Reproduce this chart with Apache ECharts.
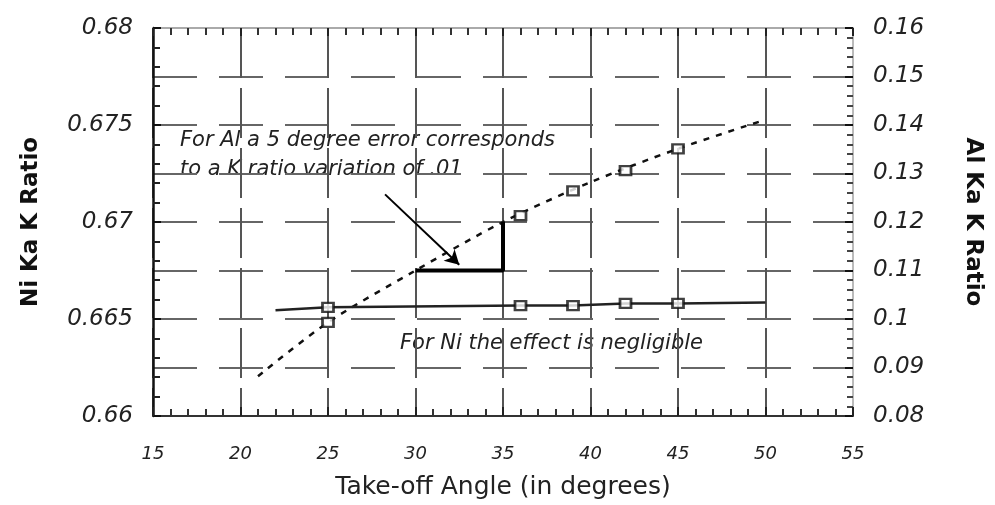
<!DOCTYPE html>
<html>
<head>
<meta charset="utf-8">
<script src="https://cdn.jsdelivr.net/npm/echarts@6/dist/echarts.min.js"></script>
<style>
  html, body { margin: 0; padding: 0; background: #fff; }
  #chart { width: 995px; height: 505px; }
</style>
</head>
<body>
<div id="chart"></div>
<script>
// ---- data ----
const measuredAngles = [25, 36, 39, 42, 45];
const alKRatio = [0.0993, 0.1213, 0.1264, 0.1306, 0.1351];
const niKRatio = [0.6656, 0.66569, 0.66569, 0.6658, 0.6658];

const alCurveAngles = [21, 25, 30, 35, 40, 45, 50];
const alCurveRatio = [0.0882, 0.0993, 0.110, 0.120, 0.1282, 0.1351, 0.1411];

const niLineAngles = [22, 25, 36, 39, 42, 45, 50];
const niLineRatio = [0.66545, 0.6656, 0.66569, 0.66569, 0.6658, 0.6658, 0.66585];

// 5 degree / 0.01 triangle
const triAngles = [30, 35, 35];
const triRatio = [0.11, 0.11, 0.12];

// arrow from the annotation to the triangle
const arrowFrom = [28.26, 0.1257];
const arrowTo = [32.5, 0.1112];

const xTicks = [15, 20, 25, 30, 35, 40, 45, 50, 55];
const leftTicks = [0.66, 0.665, 0.67, 0.675, 0.68];
const rightTicks = [0.08, 0.09, 0.1, 0.11, 0.12, 0.13, 0.14, 0.15, 0.16];

const xName = 'Take-off Angle (in degrees)';
const leftName = 'Ni Ka K Ratio';
const rightName = 'Al Ka K Ratio';
const noteAl1 = 'For Al a 5 degree error corresponds';
const noteAl2 = 'to a K ratio variation of .01';
const noteNi = 'For Ni the effect is negligible';

const zip = (a, b) => a.map((v, i) => [v, b[i]]);
const FONT = 'DejaVu Sans';
const fmt = v => String(parseFloat(Number(v).toFixed(4)));

const chart = echarts.init(document.getElementById('chart'), null, { renderer: 'canvas' });
chart.setOption({
  backgroundColor: '#ffffff',
  animation: false,
  textStyle: { fontFamily: FONT },
  grid: { left: 153, right: 142, top: 28, bottom: 87, containLabel: false },
  xAxis: [
    {
      type: 'value', position: 'bottom', min: xTicks[0], max: xTicks[xTicks.length - 1], interval: 5,
      name: xName, nameLocation: 'middle', nameGap: 59,
      nameTextStyle: { fontFamily: FONT, fontSize: 25, color: '#222' },
      axisLine: { show: true, lineStyle: { color: '#333', width: 2 } },
      axisTick: { show: true, inside: true, length: 9, lineStyle: { color: '#222', width: 2 } },
      minorTick: { show: true, splitNumber: 5, length: 7, lineStyle: { color: '#333', width: 2 } },
      axisLabel: { margin: 29, fontFamily: FONT, fontStyle: 'italic', fontSize: 18, color: '#222', formatter: fmt },
      splitLine: { show: true, lineStyle: { color: '#555', width: 2, type: [50, 10] } }
    },
    {
      type: 'value', position: 'top', min: xTicks[0], max: xTicks[xTicks.length - 1], interval: 5,
      axisLine: { show: true, lineStyle: { color: '#aaa', width: 2 } },
      axisTick: { show: true, inside: true, length: 8, lineStyle: { color: '#222', width: 2 } },
      minorTick: { show: true, splitNumber: 5, length: 7, lineStyle: { color: '#333', width: 2 } },
      axisLabel: { show: false },
      splitLine: { show: false }
    }
  ],
  yAxis: [
    {
      type: 'value', position: 'left', min: leftTicks[0], max: leftTicks[leftTicks.length - 1], interval: 0.005,
      name: leftName, nameLocation: 'middle', nameGap: 110, nameRotate: 90,
      nameTextStyle: { fontFamily: FONT, fontSize: 23, fontWeight: 'bold', color: '#111' },
      axisLine: { show: true, lineStyle: { color: '#111', width: 2.5 } },
      axisTick: { show: true, inside: true, length: 8, lineStyle: { color: '#111', width: 2 } },
      minorTick: { show: true, splitNumber: 5, length: 7, lineStyle: { color: '#222', width: 2 } },
      axisLabel: { margin: 20, fontFamily: FONT, fontStyle: 'italic', fontSize: 23, color: '#222', formatter: fmt },
      splitLine: { show: false }
    },
    {
      type: 'value', position: 'right', min: rightTicks[0], max: rightTicks[rightTicks.length - 1], interval: 0.01,
      name: rightName, nameLocation: 'middle', nameGap: 108, nameRotate: -90,
      nameTextStyle: { fontFamily: FONT, fontSize: 23, fontWeight: 'bold', color: '#111' },
      axisLine: { show: true, lineStyle: { color: '#bbb', width: 2 } },
      axisTick: { show: true, inside: true, length: 8, lineStyle: { color: '#111', width: 2 } },
      minorTick: { show: true, splitNumber: 5, length: 6, lineStyle: { color: '#444', width: 2 } },
      axisLabel: { margin: 20, fontFamily: FONT, fontStyle: 'italic', fontSize: 23, color: '#222', formatter: fmt },
      splitLine: { show: true, lineStyle: { color: '#666', width: 2, type: [44, 22] } }
    }
  ],
  series: [
    {
      name: 'Al curve', type: 'line', yAxisIndex: 1, smooth: 0.3, showSymbol: false, symbol: 'none',
      data: zip(alCurveAngles, alCurveRatio),
      lineStyle: { color: '#111', width: 2.5, type: [6, 7] }, z: 3
    },
    {
      name: 'Al', type: 'scatter', yAxisIndex: 1, symbol: 'rect', symbolSize: [11, 9],
      data: zip(measuredAngles, alKRatio),
      itemStyle: { color: '#fff', borderColor: '#111', borderWidth: 2.5 }, z: 4
    },
    {
      name: 'Ni line', type: 'line', yAxisIndex: 0, showSymbol: false, symbol: 'none',
      data: zip(niLineAngles, niLineRatio),
      lineStyle: { color: '#222', width: 2.5 }, z: 3
    },
    {
      name: 'Ni', type: 'scatter', yAxisIndex: 0, symbol: 'rect', symbolSize: [11, 9],
      data: zip(measuredAngles, niKRatio),
      itemStyle: { color: '#fff', borderColor: '#111', borderWidth: 2.5 }, z: 4
    },
    {
      name: 'triangle', type: 'line', yAxisIndex: 1, showSymbol: false, symbol: 'none',
      data: zip(triAngles, triRatio),
      lineStyle: { color: '#000', width: 4 }, z: 5,
      markLine: {
        silent: true, symbol: ['none', 'arrow'], symbolSize: [12, 14],
        label: { show: false },
        lineStyle: { color: '#000', width: 2, type: 'solid' },
        data: [[{ coord: arrowFrom }, { coord: arrowTo }]]
      }
    }
  ],
  graphic: [
    { type: 'text', left: 180, top: 130, style: { text: noteAl1, fontFamily: FONT, fontStyle: 'italic', fontSize: 21, fill: '#222' } },
    { type: 'text', left: 180, top: 159, style: { text: noteAl2, fontFamily: FONT, fontStyle: 'italic', fontSize: 21, fill: '#222' } },
    { type: 'text', left: 400, top: 333, style: { text: noteNi, fontFamily: FONT, fontStyle: 'italic', fontSize: 21, fill: '#222' } }
  ]
});
</script>
</body>
</html>
